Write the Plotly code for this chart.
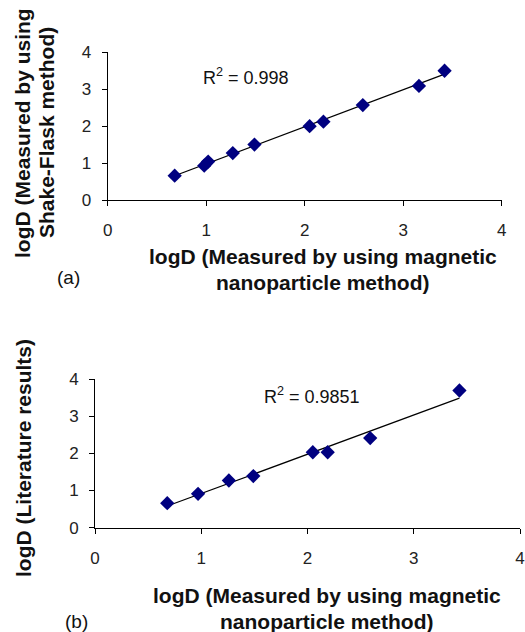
import numpy as np
import plotly.graph_objects as go

# Panel (a): magnetic nanoparticle vs shake-flask
xa = [0.68, 0.98, 1.02, 1.27, 1.49, 2.05, 2.19, 2.59, 3.16, 3.42]
ya = [0.66, 0.93, 1.04, 1.27, 1.50, 2.00, 2.12, 2.57, 3.09, 3.50]
r2_a = "0.998"

# Panel (b): magnetic nanoparticle vs literature
xb = [0.68, 0.97, 1.26, 1.49, 2.05, 2.19, 2.59, 3.43]
yb = [0.66, 0.91, 1.27, 1.39, 2.03, 2.03, 2.41, 3.69]
r2_b = "0.9851"

tick_vals = [0, 1, 2, 3, 4]
tick_text = ["0", "1", "2", "3", "4"]

W, H = 525, 632
def px(x): return x / W
def py(y): return 1 - y / H

FONT = "Liberation Sans, Arial, sans-serif"
MARK = "#000080"

fig = go.Figure()

def fit_line(x, y):
    m, b = np.polyfit(x, y, 1)
    xs = np.array([min(x), max(x)])
    return xs, m * xs + b

for xs, ys, xa_name, ya_name in [(xa, ya, "x", "y"), (xb, yb, "x2", "y2")]:
    lx, ly = fit_line(xs, ys)
    fig.add_trace(go.Scatter(x=lx, y=ly, mode="lines", line=dict(color="black", width=1.2),
                             xaxis=xa_name, yaxis=ya_name, showlegend=False, hoverinfo="skip",
                             cliponaxis=False))
    fig.add_trace(go.Scatter(x=xs, y=ys, mode="markers",
                             marker=dict(symbol="diamond", size=11, color=MARK, line=dict(width=0)),
                             xaxis=xa_name, yaxis=ya_name, showlegend=False, cliponaxis=False))

axis_common = dict(range=[0, 4], tickvals=tick_vals, ticktext=tick_text, showgrid=False, zeroline=False,
                   showline=True, linecolor="black", linewidth=1, ticks="outside", ticklen=5,
                   tickcolor="black", tickwidth=1, automargin=False,
                   tickfont=dict(family=FONT, size=17, color="#222"))

fig.update_layout(
    width=W, height=H, margin=dict(l=0, r=0, t=0, b=0, autoexpand=False),
    paper_bgcolor="white", plot_bgcolor="white",
    xaxis=dict(domain=[px(107.7), px(501.7)], anchor="y", ticklabelstandoff=10, **axis_common),
    yaxis=dict(domain=[py(200), py(52.3)], anchor="x", ticklabelstandoff=7, **axis_common),
    xaxis2=dict(domain=[px(95), px(520)], anchor="y2", ticklabelstandoff=10, **axis_common),
    yaxis2=dict(domain=[py(527.7), py(379)], anchor="x2", ticklabelstandoff=7, **axis_common),
)

def ann(text, x, y, size, bold=False, angle=0):
    t = f"<b>{text}</b>" if bold else text
    fig.add_annotation(text=t, x=px(x), y=py(y), xref="paper", yref="paper", showarrow=False,
                       xanchor="center", yanchor="middle", textangle=angle,
                       font=dict(family=FONT, size=size, color="#111"))

TS = 21
ann("logD (Measured by using", 22, 133, TS, True, -90)
ann("Shake-Flask method)", 46, 133, TS, True, -90)
ann("logD (Measured by using magnetic", 323, 257, TS, True)
ann("nanoparticle method)", 323, 283, TS, True)
ann("(a)", 68, 277, 19)
ann("R<sup>2</sup> = " + r2_a, 246, 77, 18)

ann("logD (Literature results)", 23, 458, TS, True, -90)
ann("logD (Measured by using magnetic", 327, 595, TS, True)
ann("nanoparticle method)", 327, 621, TS, True)
ann("(b)", 76, 621, 19)
ann("R<sup>2</sup> = " + r2_b, 312, 395, 18)

fig.write_html("out.html", config={"displayModeBar": False},
               post_script="document.body.style.margin='0px';document.body.style.overflow='hidden';")
